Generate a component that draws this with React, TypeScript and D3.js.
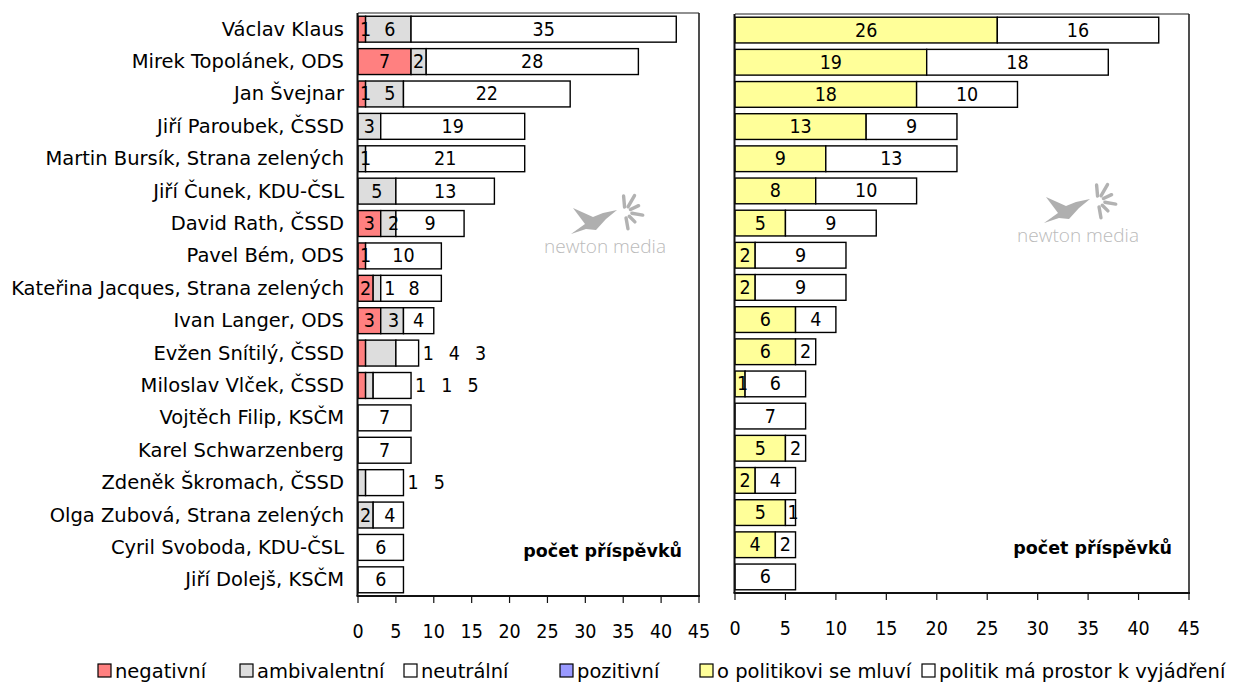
import React from 'react';
import * as d3 from 'd3';

const categories = [
  'Václav Klaus',
  'Mirek Topolánek, ODS',
  'Jan Švejnar',
  'Jiří Paroubek, ČSSD',
  'Martin Bursík, Strana zelených',
  'Jiří Čunek, KDU-ČSL',
  'David Rath, ČSSD',
  'Pavel Bém, ODS',
  'Kateřina Jacques, Strana zelených',
  'Ivan Langer, ODS',
  'Evžen Snítilý, ČSSD',
  'Miloslav Vlček, ČSSD',
  'Vojtěch Filip, KSČM',
  'Karel Schwarzenberg',
  'Zdeněk Škromach, ČSSD',
  'Olga Zubová, Strana zelených',
  'Cyril Svoboda, KDU-ČSL',
  'Jiří Dolejš, KSČM',
];

// left panel: tone of the coverage
const negativni = [1, 7, 1, 0, 0, 0, 3, 1, 2, 3, 1, 1, 0, 0, 0, 0, 0, 0];
const ambivalentni = [6, 2, 5, 3, 1, 5, 2, 0, 1, 3, 4, 1, 0, 0, 1, 2, 0, 0];
const neutralni = [35, 28, 22, 19, 21, 13, 9, 10, 8, 4, 3, 5, 7, 7, 5, 4, 6, 6];
const pozitivni = [0, 0, 0, 0, 0, 0, 0, 0, 0, 0, 0, 0, 0, 0, 0, 0, 0, 0];

// right panel: spoken about vs. speaking
const mluvi = [26, 19, 18, 13, 9, 8, 5, 2, 2, 6, 6, 1, 0, 5, 2, 5, 4, 0];
const prostor = [16, 18, 10, 9, 13, 10, 9, 9, 9, 4, 2, 6, 7, 2, 4, 1, 2, 6];

const xTicks = [0, 5, 10, 15, 20, 25, 30, 35, 40, 45];
const xMax = 45;

const leftSeries = [
  { name: 'negativní', values: negativni, color: '#FF8080' },
  { name: 'ambivalentní', values: ambivalentni, color: '#DDDDDD' },
  { name: 'neutrální', values: neutralni, color: '#FFFFFF' },
  { name: 'pozitivní', values: pozitivni, color: '#9999FF' },
];
const rightSeries = [
  { name: 'o politikovi se mluví', values: mluvi, color: '#FFFF99' },
  { name: 'politik má prostor k vyjádření', values: prostor, color: '#FFFFFF' },
];

const TEXT_FONT = "'DejaVu Sans', sans-serif";
const NUM_FONT = "'DejaVu Sans Condensed', 'DejaVu Sans', sans-serif";
const TEXT_FS = 19.5;
const NUM_FS = 19.5;
const CHAR_W = 11.2;

type Seg = { start: number; end: number; value: number; color: string; key: string };

function layoutLabels(segs: Seg[], x: (v: number) => number) {
  const nz = segs.filter((s) => s.value > 0);
  const n = nz.length;
  if (!n) return [] as { cx: number; text: string }[];
  const barStart = x(0);
  const barEnd = x(nz[n - 1].end);
  const anyNarrow = nz.some((s) => x(s.end) - x(s.start) < String(s.value).length * CHAR_W + 2);
  const out: { cx: number; text: string }[] = [];
  if (anyNarrow && barEnd - barStart < n * 24 + 6) {
    // not enough room inside the bar: line the labels up after it
    let prevRight = -1e9;
    nz.forEach((s) => {
      const t = String(s.value);
      const half = (t.length * CHAR_W) / 2;
      const cx = Math.max(barEnd + 4 + half, prevRight + 15 + half);
      out.push({ cx, text: t });
      prevRight = cx + half;
    });
  } else {
    let prevRight = -1e9;
    nz.forEach((s) => {
      const t = String(s.value);
      const half = (t.length * CHAR_W) / 2;
      const center = (x(s.start) + x(s.end)) / 2;
      const cx = Math.max(center, prevRight + 13 + half, x(s.start) + half + 2);
      out.push({ cx, text: t });
      prevRight = cx + half;
    });
  }
  return out;
}

function Watermark({ cx, cy }: { cx: number; cy: number }) {
  const bx = cx - 8;
  const by = cy - 24;
  const ox = bx + 28;
  const oy = by - 10;
  const rays = [
    { a: -95, r0: 5, r1: 16 },
    { a: -60, r0: 6, r1: 19 },
    { a: -25, r0: 6, r1: 15 },
    { a: 10, r0: 7, r1: 18 },
    { a: 45, r0: 6, r1: 14 },
    { a: 80, r0: 6, r1: 17 },
  ];
  return (
    <g opacity={0.8}>
      <path
        d={`M ${bx - 26} ${by + 12} L ${bx - 12} ${by + 2} L ${bx - 24} ${by - 14} L ${bx - 4} ${by - 5} L ${bx + 6} ${by - 9} L ${bx + 20} ${by - 12} L ${bx + 9} ${by - 3} L ${bx - 1} ${by + 8} L ${bx - 11} ${by + 7} Z`}
        fill="#9c9c9c"
      />
      {rays.map((r, i) => {
        const rad = (r.a * Math.PI) / 180;
        return (
          <line
            key={i}
            x1={ox + r.r0 * Math.cos(rad)}
            y1={oy + r.r0 * Math.sin(rad)}
            x2={ox + r.r1 * Math.cos(rad)}
            y2={oy + r.r1 * Math.sin(rad)}
            stroke="#a0a0a0"
            strokeWidth={3.4}
            strokeLinecap="round"
          />
        );
      })}
      <text
        x={cx}
        y={cy}
        textAnchor="middle"
        dominantBaseline="central"
        fontFamily="'Open Sans', sans-serif"
        fontWeight={300}
        fontSize={19}
        fill="#aaaaaa"
      >
        newton media
      </text>
    </g>
  );
}

type PanelProps = {
  x0: number;
  x1: number;
  y0: number;
  y1: number;
  series: { name: string; values: number[]; color: string }[];
  showCategories: boolean;
  wm: { cx: number; cy: number };
};

function Panel({ x0, x1, y0, y1, series, showCategories, wm }: PanelProps) {
  const x = d3.scaleLinear().domain([0, xMax]).range([x0, x1]);
  const y = d3.scaleBand<string>().domain(categories).range([y0, y1]).paddingInner(0.2).paddingOuter(0.1);
  const rows = categories.map((c, j) => {
    const o: Record<string, number> = {};
    series.forEach((s, i) => (o['s' + i] = s.values[j]));
    return o;
  });
  const stack = d3.stack<Record<string, number>>().keys(series.map((_, i) => 's' + i))(rows);

  return (
    <g>
      <Watermark cx={wm.cx} cy={wm.cy} />
      {categories.map((c, j) => {
        const segs: Seg[] = stack.map((layer, i) => ({
          start: layer[j][0],
          end: layer[j][1],
          value: series[i].values[j],
          color: series[i].color,
          key: c + i,
        }));
        const by = y(c)!;
        const bh = y.bandwidth();
        const labels = layoutLabels(segs, x);
        return (
          <g key={c}>
            {showCategories && (
              <text
                x={x0 - 14}
                y={by + bh / 2}
                textAnchor="end"
                dominantBaseline="central"
                fontFamily={TEXT_FONT}
                fontSize={TEXT_FS}
                fill="#000"
              >
                {c}
              </text>
            )}
            {segs
              .filter((s) => s.value > 0)
              .map((s) => (
                <rect
                  key={s.key}
                  x={x(s.start)}
                  y={by}
                  width={x(s.end) - x(s.start)}
                  height={bh}
                  fill={s.color}
                  stroke="#000"
                  strokeWidth={1.4}
                />
              ))}
            {labels.map((l, k) => (
              <text
                key={k}
                x={l.cx}
                y={by + bh / 2}
                textAnchor="middle"
                dominantBaseline="central"
                fontFamily={NUM_FONT}
                fontSize={NUM_FS}
                fill="#000"
              >
                {l.text}
              </text>
            ))}
          </g>
        );
      })}
      {/* plot frame */}
      <line x1={x0} x2={x1} y1={y0} y2={y0} stroke="#222" strokeWidth={1.2} />
      <line x1={x1} x2={x1} y1={y0} y2={y1} stroke="#222" strokeWidth={1.6} />
      <line x1={x0 - 0.5} x2={x0 - 0.5} y1={y0} y2={y1} stroke="#111" strokeWidth={2} />
      <line x1={x0 - 1.5} x2={x1 + 1} y1={y1} y2={y1} stroke="#111" strokeWidth={2} />
      {xTicks.map((t) => (
        <g key={t}>
          <line x1={x(t)} x2={x(t)} y1={y1} y2={y1 + 7} stroke="#111" strokeWidth={1.2} />
          <text
            x={x(t)}
            y={y1 + 35}
            textAnchor="middle"
            dominantBaseline="central"
            fontFamily={NUM_FONT}
            fontSize={NUM_FS}
            fill="#000"
          >
            {t}
          </text>
        </g>
      ))}
      <text
        x={x1 - 17}
        y={y1 - 45}
        textAnchor="end"
        dominantBaseline="central"
        fontFamily={TEXT_FONT}
        fontWeight="bold"
        fontSize={17.5}
        fill="#000"
      >
        počet příspěvků
      </text>
    </g>
  );
}

function LegendItem({ x, label, color }: { x: number; label: string; color: string }) {
  return (
    <g>
      <rect x={x} y={664} width={13} height={13} fill={color} stroke="#000" strokeWidth={1.2} />
      <text
        x={x + 17}
        y={671}
        dominantBaseline="central"
        fontFamily={TEXT_FONT}
        fontSize={TEXT_FS}
        fill="#000"
      >
        {label}
      </text>
    </g>
  );
}

const leftLegendX = [98, 240, 404, 560];
const rightLegendX = [700, 922];

export default function App() {
  return (
    <svg
      width={1240}
      height={682}
      viewBox="0 0 1240 682"
      style={{ position: 'absolute', left: 0, top: 0, background: '#fff' }}
    >
      <rect x={0} y={0} width={1240} height={682} fill="#fff" />
      <Panel x0={358} x1={699} y0={13} y1={596} series={leftSeries} showCategories={true} wm={{ cx: 605, cy: 246 }} />
      <Panel x0={735} x1={1189} y0={14} y1={593} series={rightSeries} showCategories={false} wm={{ cx: 1078, cy: 235 }} />
      {leftSeries.map((s, i) => (
        <LegendItem key={s.name} x={leftLegendX[i]} label={s.name} color={s.color} />
      ))}
      {rightSeries.map((s, i) => (
        <LegendItem key={s.name} x={rightLegendX[i]} label={s.name} color={s.color} />
      ))}
    </svg>
  );
}
